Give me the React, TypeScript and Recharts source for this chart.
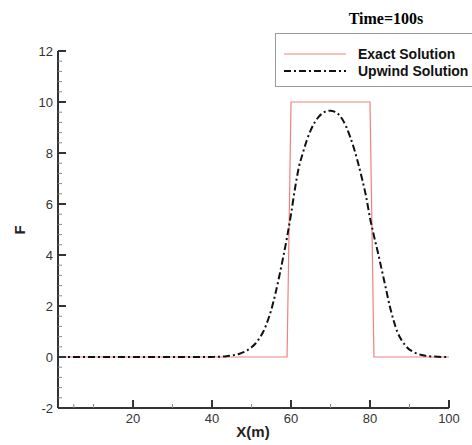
import React from "react";
import { LineChart, Line, XAxis, YAxis } from "recharts";

// exact solution: square pulse
const exactX = [1, 59, 60, 80, 81, 100];
const exactF = [0, 0, 10, 10, 0, 0];

// upwind solution
const upwindX = [
  1, 5, 10, 15, 20, 25, 30, 35, 40, 41, 42, 43, 44, 45, 46, 47, 48, 49, 50,
  51, 52, 53, 54, 55, 56, 57, 58, 59, 60, 61, 62, 63, 64, 65, 66, 67, 68, 69,
  70, 71, 72, 73, 74, 75, 76, 77, 78, 79, 80, 81, 82, 83, 84, 85, 86, 87, 88,
  89, 90, 91, 92, 93, 94, 95, 96, 97, 98, 99, 100,
];
const upwindF = [
  0, 0, 0, 0, 0, 0, 0, 0, 0, 0.01, 0.01, 0.02, 0.04, 0.06, 0.09, 0.13, 0.19,
  0.27, 0.38, 0.53, 0.74, 1.0, 1.38, 1.85, 2.45, 3.15, 3.9, 4.7, 5.6, 6.6,
  7.45, 8.0, 8.5, 8.9, 9.2, 9.42, 9.56, 9.64, 9.66, 9.62, 9.52, 9.32, 9.02,
  8.62, 8.15, 7.6, 6.98, 6.3, 5.45, 4.75, 4.1, 3.4, 2.7, 2.0, 1.42, 0.95,
  0.66, 0.44, 0.29, 0.2, 0.13, 0.08, 0.05, 0.03, 0.02, 0.01, 0, 0, 0,
];

const xMajor = [20, 40, 60, 80, 100];
const yMajor = [-2, 0, 2, 4, 6, 8, 10, 12];

const exactData = exactX.map((x, i) => ({ x, f: exactF[i] }));
const upwindData = upwindX.map((x, i) => ({ x, f: upwindF[i] }));

// minor ticks between the labelled ones
const xTicks: number[] = [];
for (let v = 5; v <= 100; v += 5) xTicks.push(v);
const yTicks: number[] = [];
for (let k = 0; k <= 35; k++) yTicks.push(Math.round((-2 + k * 0.4) * 10) / 10);

const RED = "#f28080";
const AXIS = "#333";
const FONT = "Arial, 'Liberation Sans', sans-serif";

const YTick = (props: any) => {
  const { x, y, payload } = props;
  const v = payload.value;
  const major = yMajor.includes(v);
  return (
    <g>
      <line
        x1={x}
        x2={x + (major ? 8 : 4)}
        y1={y}
        y2={y}
        stroke={major ? AXIS : "#888"}
        strokeWidth={major ? 2 : 1}
      />
      {major && (
        <text x={x - 5} y={y} dy={4.5} textAnchor="end" fontSize={13} fontFamily={FONT} fill="#333">
          {v}
        </text>
      )}
    </g>
  );
};

const XTick = (props: any) => {
  const { x, y, payload } = props;
  const v = payload.value;
  const major = xMajor.includes(v);
  return (
    <g>
      <line
        x1={x}
        x2={x}
        y1={y}
        y2={y - (major ? 8 : 4)}
        stroke={major ? AXIS : "#888"}
        strokeWidth={major ? 2 : 1}
      />
      {major && (
        <text x={x} y={y} dy={15} textAnchor="middle" fontSize={13} fontFamily={FONT} fill="#333">
          {v}
        </text>
      )}
    </g>
  );
};

export default function App() {
  return (
    <div style={{ position: "absolute", left: 0, top: 0, width: 472, height: 445, background: "#fff" }}>
      <LineChart width={472} height={445} margin={{ top: 51, right: 23, bottom: 7, left: 0 }}>
        <XAxis
          dataKey="x"
          type="number"
          domain={[1, 100]}
          ticks={xTicks}
          tick={<XTick />}
          tickLine={false}
          tickSize={0}
          tickMargin={0}
          height={30}
          axisLine={{ stroke: AXIS, strokeWidth: 2 }}
          allowDataOverflow
        />
        <YAxis
          type="number"
          domain={[-2, 12]}
          ticks={yTicks}
          tick={<YTick />}
          tickLine={false}
          tickSize={0}
          tickMargin={0}
          width={58}
          axisLine={{ stroke: AXIS, strokeWidth: 2 }}
          interval={0}
          allowDataOverflow
        />
        <Line
          data={exactData}
          dataKey="f"
          type="linear"
          stroke={RED}
          strokeWidth={1.2}
          dot={false}
          isAnimationActive={false}
        />
        <Line
          data={upwindData}
          dataKey="f"
          type="monotone"
          stroke="#111"
          strokeWidth={2}
          strokeDasharray="7 3 2 3"
          dot={false}
          isAnimationActive={false}
        />
      </LineChart>
      <svg
        width={472}
        height={445}
        style={{ position: "absolute", left: 0, top: 0, pointerEvents: "none" }}
      >
        <text x={386} y={24} textAnchor="middle" fontSize={16} fontWeight="bold" fontFamily="'Liberation Serif', 'Times New Roman', serif">
          Time=100s
        </text>
        <rect x={275.5} y={33.5} width={210} height={53} fill="#fff" stroke="#999" strokeWidth={1} />
        <line x1={284} x2={346} y1={54} y2={54} stroke={RED} strokeWidth={1.2} />
        <text x={358} y={59} fontSize={14} fontWeight="bold" fontFamily={FONT} fill="#111">
          Exact Solution
        </text>
        <line x1={284} x2={346} y1={71} y2={71} stroke="#111" strokeWidth={2} strokeDasharray="7 3 2 3" />
        <text x={358} y={76} fontSize={14} fontWeight="bold" fontFamily={FONT} fill="#111">
          Upwind Solution
        </text>
        <text
          x={25}
          y={230}
          textAnchor="middle"
          fontSize={15}
          fontWeight="bold"
          fontFamily={FONT}
          fill="#222"
          transform="rotate(-90 25 230)"
        >
          F
        </text>
        <text x={253} y={437} textAnchor="middle" fontSize={15} fontWeight="bold" fontFamily={FONT} fill="#222">
          X(m)
        </text>
      </svg>
    </div>
  );
}
